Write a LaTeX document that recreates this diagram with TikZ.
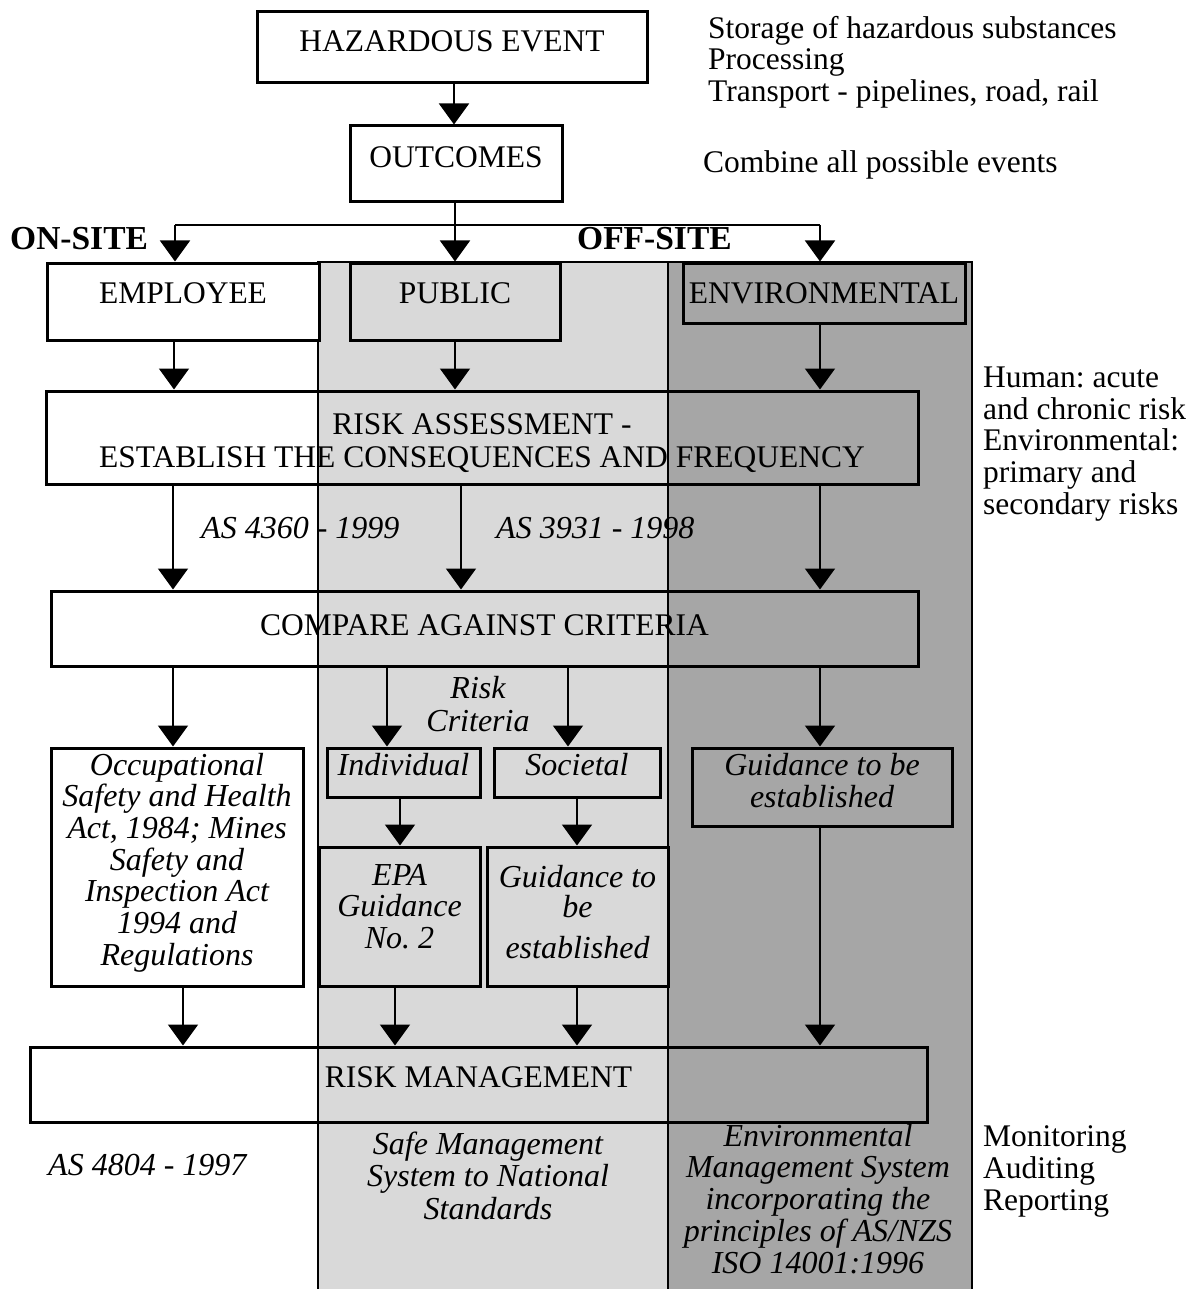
\documentclass[tikz,border=0pt]{standalone}
\usepackage{fontspec}
\setmainfont{Liberation Serif}
\usetikzlibrary{arrows.meta}
\frenchspacing
\definecolor{lgray}{RGB}{217,217,217}
\definecolor{dgray}{RGB}{166,166,166}
\newcommand\tp[1]{\rule{0pt}{#1pt}}
\newcommand\bt[1]{\rule[-#1pt]{0pt}{#1pt}}
\tikzset{
  bx/.style={draw, line width=3pt, inner sep=0pt, align=center, font=\fontsize{31.5}{#1}\selectfont},
  bx/.default=32,
  ibx/.style={bx=#1, font=\fontsize{32}{#1}\selectfont\itshape},
  ibx/.default=32,
  arr/.style={line width=1.8pt, -{Triangle[width=30pt,length=21pt]}},
  txt/.style={inner sep=0pt, align=left, font=\fontsize{31.5}{#1}\selectfont},
  txt/.default=32,
  itxt/.style={inner sep=0pt, align=center, font=\fontsize{32}{#1}\selectfont\itshape},
  itxt/.default=32,
  btxt/.style={inner sep=0pt, font=\fontsize{33.5}{35}\selectfont\bfseries},
}
\begin{document}
\begin{tikzpicture}[x=1pt,y=-1pt]
\useasboundingbox (0,0) rectangle (1192,1289);
% shaded panels
\fill[lgray] (318,262) rectangle (668,1300);
\fill[dgray] (668,262) rectangle (972,1300);
\draw[line width=1.5pt] (318,1300) -- (318,262) -- (972,262) -- (972,1300);
\draw[line width=1.5pt] (668,262) -- (668,1300);

% boxes
\node[bx, minimum width=390pt, minimum height=71pt] (haz) at (452,47.5) {\tp{22.4}HAZARDOUS EVENT\bt{14}};
\node[bx, minimum width=212pt, minimum height=76pt] (out) at (456,164) {\tp{22.4}OUTCOMES\bt{15}};
\node[bx, fill=white, minimum width=272pt, minimum height=77pt] (emp) at (183,301.5) {\tp{23}EMPLOYEE\bt{20}};
\node[bx, fill=lgray, minimum width=210pt, minimum height=77pt] (pub) at (455,301.5) {\tp{23}PUBLIC\bt{20}};
\node[bx, fill=dgray, minimum width=282pt, minimum height=60pt] (env) at (824,293) {\tp{30}ENVIRONMENTAL\bt{10}};
\node[bx=33, minimum width=872pt, minimum height=93pt] (ra) at (482,437.5) {\tp{36}RISK ASSESSMENT -\\ESTABLISH THE CONSEQUENCES AND FREQUENCY\bt{10}};
\node[bx, minimum width=867pt, minimum height=75pt] (cmp) at (484.5,628.5) {\tp{23}COMPARE AGAINST CRITERIA\bt{10}};
\node[ibx=31.67, fill=white, minimum width=252pt, minimum height=238pt] (occ) at (177,867) {\tp{24}Occupational\\Safety and Health\\Act, 1984; Mines\\Safety and\\Inspection Act\\1994 and\\Regulations\bt{18}};
\node[ibx, minimum width=153pt, minimum height=49pt] (ind) at (403.5,772.5) {\tp{23}Individual\bt{18}};
\node[ibx, minimum width=166pt, minimum height=49pt] (soc) at (577,772.5) {\tp{23}Societal\bt{18}};
\node[ibx=32, minimum width=260pt, minimum height=78pt] (envg) at (822,787) {\tp{23}Guidance to be\\established\bt{15}};
\node[ibx=31.5, minimum width=161pt, minimum height=139pt] (epa) at (399.5,916.5) {\tp{22}EPA\\Guidance\\No. 2\bt{22}};
\node[ibx=31.5, minimum width=181pt, minimum height=139pt] (socg) at (577.5,916.5) {\tp{24}Guidance to\\[-1.5pt]be\\[9.5pt]established\bt{12}};
\node[bx, minimum width=897pt, minimum height=75pt] (rm) at (478.5,1084.5) {\tp{23}RISK MANAGEMENT\bt{18}};

% free texts
\node[txt=31.5, anchor=west] (src) at (708,68.5) {\tp{20}Storage of hazardous substances\\Processing\\Transport - pipelines, road, rail\bt{20}};
\node[txt, anchor=base west] (comb) at (703,173) {Combine all possible events};
\node[btxt, anchor=base west] (onsite) at (10,250) {ON-SITE};
\node[btxt, anchor=base west] (offsite) at (577,250) {OFF-SITE};
\node[txt=31.75, anchor=west] (human) at (983,450.5) {\tp{20}Human: acute\\and chronic risk\\Environmental:\\primary and\\secondary risks\bt{20}};
\node[itxt, anchor=base west] (as1) at (201,538) {AS 4360 - 1999};
\node[itxt, anchor=base west] (as2) at (496,538) {AS 3931 - 1998};
\node[itxt=33] (rc) at (478,713.5) {\tp{20}Risk\\Criteria\bt{20}};
\node[itxt, anchor=base west] (as3) at (48,1175) {AS 4804 - 1997};
\node[itxt=32.5] (sms) at (488,1185.5) {\tp{20}Safe Management\\System to National\\Standards\bt{20}};
\node[itxt=31.75] (ems) at (818,1208.5) {\tp{20}Environmental\\Management System\\incorporating the\\principles of AS/NZS\\ISO 14001:1996\bt{20}};
\node[txt, anchor=west] (mon) at (983,1178) {\tp{20}Monitoring\\Auditing\\Reporting\bt{20}};

% column coordinates
\coordinate (c454) at (454,0);
\coordinate (c455) at (455,0);
\coordinate (bL) at (175,225);
\coordinate (bR) at (820,225);
\coordinate (c174) at (174,0);
\coordinate (c173) at (173,0);
\coordinate (c461) at (461,0);
\coordinate (c820) at (820,0);
\coordinate (c387) at (387,0);
\coordinate (c568) at (568,0);
\coordinate (c400) at (400,0);
\coordinate (c577) at (577,0);
\coordinate (c183) at (183,0);
\coordinate (c395) at (395,0);

% connectors
\draw[arr] (c454 |- haz.south) -- (c454 |- out.north);
\draw[arr] (c455 |- out.south) -- (c455 |- pub.north);
\draw[line width=2pt] (bL) -- (bR);
\draw[arr] (bL) -- (bL |- emp.north);
\draw[arr] (bR) -- (bR |- env.north);
\draw[arr] (c174 |- emp.south) -- (c174 |- ra.north);
\draw[arr] (c455 |- pub.south) -- (c455 |- ra.north);
\draw[arr] (c820 |- env.south) -- (c820 |- ra.north);
\draw[arr] (c173 |- ra.south) -- (c173 |- cmp.north);
\draw[arr] (c461 |- ra.south) -- (c461 |- cmp.north);
\draw[arr] (c820 |- ra.south) -- (c820 |- cmp.north);
\draw[arr] (c173 |- cmp.south) -- (c173 |- occ.north);
\draw[arr] (c387 |- cmp.south) -- (c387 |- ind.north);
\draw[arr] (c568 |- cmp.south) -- (c568 |- soc.north);
\draw[arr] (c820 |- cmp.south) -- (c820 |- envg.north);
\draw[arr] (c400 |- ind.south) -- (c400 |- epa.north);
\draw[arr] (c577 |- soc.south) -- (c577 |- socg.north);
\draw[arr] (c183 |- occ.south) -- (c183 |- rm.north);
\draw[arr] (c395 |- epa.south) -- (c395 |- rm.north);
\draw[arr] (c577 |- socg.south) -- (c577 |- rm.north);
\draw[arr] (c820 |- envg.south) -- (c820 |- rm.north);
\end{tikzpicture}
\end{document}
